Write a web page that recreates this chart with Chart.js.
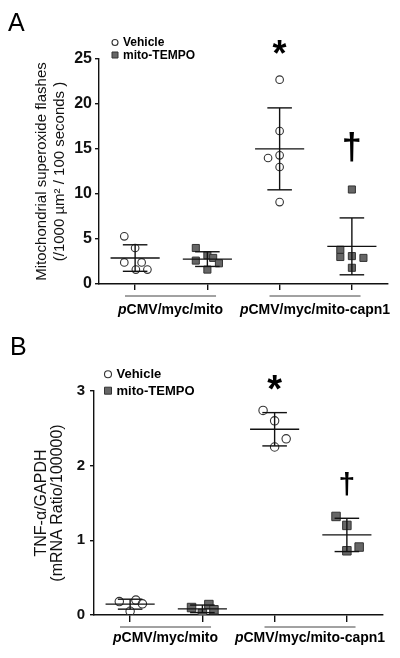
<!DOCTYPE html>
<html lang="en">
<head>
<meta charset="UTF-8">
<title>Superoxide flashes and TNF-α</title>
<script src="https://cdn.jsdelivr.net/npm/chart.js@4.4.1/dist/chart.umd.min.js"></script>
<style>
  body { margin: 0; background: #fff; }
  .panel { position: relative; width: 400px; }
  #panelA { height: 320px; }
  #panelB { height: 338px; }
</style>
</head>
<body>
<div class="panel" id="panelA"><canvas id="chartA"></canvas></div>
<div class="panel" id="panelB"><canvas id="chartB"></canvas></div>
<script>
// x groups 0..3: mito+Vehicle, mito+TEMPO, capn1+Vehicle, capn1+TEMPO
const constructs = ['pCMV/myc/mito', 'pCMV/myc/mito-capn1'];
const treatments = ['Vehicle', 'mito-TEMPO'];

// A: mitochondrial superoxide flashes
const flashMitoVehicle = [5.3, 4.0, 2.4, 2.4, 1.6, 1.6];
const flashMitoTempo = [4.0, 2.6, 3.2, 2.9, 2.3, 1.6];
const flashCapn1Vehicle = [22.7, 17.0, 14.3, 14.0, 13.0, 9.1];
const flashCapn1Tempo = [10.5, 3.8, 3.0, 3.1, 2.9, 1.8];
// horizontal scatter of the dots, in group widths
const flashJitter = [
  [-0.15, 0, -0.15, 0.09, 0.01, 0.17],
  [-0.16, -0.16, 0, 0.08, 0.16, 0],
  [0, 0, 0, -0.16, 0, 0],
  [0, -0.16, -0.16, 0, 0.16, 0]
];
const flashTicks = [0, 5, 10, 15, 20, 25];
const flashMarks = ['', '', '*', '†'];
const flashMarkY = [null, null, 26.3, 15.2];

// B: TNF-α/GAPDH
const tnfMitoVehicle = [0.18, 0.2, 0.15, 0.05];
const tnfMitoTempo = [0.1, 0.02, 0.14, 0.07];
const tnfCapn1Vehicle = [2.74, 2.6, 2.36, 2.25];
const tnfCapn1Tempo = [1.32, 1.2, 0.91, 0.86];
const tnfJitter = [
  [-0.15, 0.08, 0.17, 0],
  [-0.15, 0, 0.09, 0.16],
  [-0.16, 0, 0.16, 0],
  [-0.15, 0, 0.17, 0]
];
const tnfTicks = [0, 1, 2, 3];
const tnfMarks = ['', '', '*', '†'];
const tnfMarkY = [null, null, 3.11, 1.75];

const FONT = "'Liberation Sans', Arial, sans-serif";
Chart.defaults.font.family = FONT;
Chart.defaults.color = '#111';

function mean(a) { return a.reduce((s, v) => s + v, 0) / a.length; }
function sd(a) {
  const m = mean(a);
  return Math.sqrt(a.reduce((s, v) => s + (v - m) * (v - m), 0) / (a.length - 1));
}

// mean +/- SD bars, significance marks, legend and construct labels
const extras = {
  id: 'extras',
  afterDatasetsDraw(chart, args, o) {
    const ctx = chart.ctx, xs = chart.scales.x, ys = chart.scales.y;
    ctx.save();
    ctx.strokeStyle = '#111';
    ctx.lineWidth = 1.4;
    const hline = (g, v, half) => {
      ctx.beginPath();
      ctx.moveTo(xs.getPixelForValue(g - half), ys.getPixelForValue(v));
      ctx.lineTo(xs.getPixelForValue(g + half), ys.getPixelForValue(v));
      ctx.stroke();
    };
    o.groups.forEach((vals, g) => {
      const m = mean(vals), s = sd(vals);
      hline(g, m, 0.34);
      hline(g, m + s, 0.17);
      hline(g, m - s, 0.17);
      ctx.beginPath();
      ctx.moveTo(xs.getPixelForValue(g), ys.getPixelForValue(m + s));
      ctx.lineTo(xs.getPixelForValue(g), ys.getPixelForValue(m - s));
      ctx.stroke();
    });
    // * and dagger
    ctx.fillStyle = '#000';
    ctx.textAlign = 'center';
    ctx.textBaseline = 'alphabetic';
    o.marks.forEach((t, g) => {
      if (!t) return;
      ctx.font = 'bold ' + (t === '*' ? o.starSize : o.daggerSize) + 'px ' + FONT;
      const mt = ctx.measureText(t);
      const cy = ys.getPixelForValue(o.markY[g]);
      ctx.fillText(t, xs.getPixelForValue(g), cy + (mt.actualBoundingBoxAscent - mt.actualBoundingBoxDescent) / 2);
    });
    ctx.restore();
  },
  afterDraw(chart, args, o) {
    const ctx = chart.ctx, xs = chart.scales.x, area = chart.chartArea;
    ctx.save();
    // legend
    ctx.textBaseline = 'middle';
    ctx.textAlign = 'left';
    ctx.font = 'bold ' + o.legendSize + 'px ' + FONT;
    chart.data.datasets.forEach((ds, i) => {
      const px = area.left + o.legendX, py = area.top + o.legendY[i];
      const r = o.legendR[i];
      ctx.fillStyle = ds.backgroundColor;
      ctx.strokeStyle = ds.borderColor;
      ctx.lineWidth = ds.borderWidth;
      ctx.beginPath();
      if (ds.pointStyle === 'rect') ctx.rect(px - r, py - r, 2 * r, 2 * r);
      else ctx.arc(px, py, r, 0, Math.PI * 2);
      ctx.fill();
      ctx.stroke();
      ctx.fillStyle = '#000';
      ctx.fillText(ds.label, px + r + 5, py + 0.5);
    });
    // construct brackets and labels (leading p in italics)
    ctx.strokeStyle = '#444';
    ctx.lineWidth = 1;
    ctx.fillStyle = '#000';
    ctx.textBaseline = 'alphabetic';
    constructs.forEach((name, k) => {
      const g0 = 2 * k, g1 = 2 * k + 1;
      const x0 = xs.getPixelForValue(g0 - 0.14), x1 = xs.getPixelForValue(g1 + 0.12);
      const by = area.bottom + o.bracketGap;
      ctx.beginPath();
      ctx.moveTo(x0, by);
      ctx.lineTo(x1, by);
      ctx.stroke();
      const rest = name.slice(1);
      ctx.font = 'italic bold ' + o.labelSize + 'px ' + FONT;
      const wp = ctx.measureText('p').width;
      ctx.font = 'bold ' + o.labelSize + 'px ' + FONT;
      const wr = ctx.measureText(rest).width;
      let lx = (x0 + x1) / 2 - (wp + wr) / 2;
      const ly = area.bottom + o.labelGap;
      ctx.font = 'italic bold ' + o.labelSize + 'px ' + FONT;
      ctx.fillText('p', lx, ly);
      ctx.font = 'bold ' + o.labelSize + 'px ' + FONT;
      ctx.fillText(rest, lx + wp, ly);
    });
    ctx.restore();
  }
};

function dotPlot(id, c) {
  const vehiclePts = [], tempoPts = [];
  c.groups.forEach((vals, g) => {
    const target = g % 2 === 0 ? vehiclePts : tempoPts;
    vals.forEach((v, i) => target.push({ x: g + c.jitter[g][i], y: v }));
  });
  return new Chart(document.getElementById(id), {
    type: 'scatter',
    data: {
      datasets: [
        { label: treatments[0], data: vehiclePts, pointStyle: 'circle', pointRadius: c.circleR,
          pointHoverRadius: c.circleR, backgroundColor: 'rgba(255,255,255,0)', borderColor: '#333', borderWidth: 1.1 },
        { label: treatments[1], data: tempoPts, pointStyle: 'rect', pointRadius: c.rectR,
          pointHoverRadius: c.rectR, backgroundColor: '#666', borderColor: '#333', borderWidth: 1 }
      ]
    },
    options: {
      responsive: true,
      maintainAspectRatio: false,
      animation: false,
      layout: { padding: { left: c.padLeft, right: c.padRight, top: 0, bottom: 0 } },
      plugins: {
        legend: { display: false },
        tooltip: { enabled: false },
        title: {
          display: true, text: c.letter, align: 'start', color: '#000',
          font: { size: 25, weight: 'normal' },
          padding: { top: c.letterTop, bottom: c.letterBottom }
        },
        extras: c.extras
      },
      scales: {
        x: {
          type: 'linear', min: -0.5, max: 3.5,
          afterBuildTicks: s => { s.ticks = [0, 1, 2, 3].map(v => ({ value: v })); },
          afterFit: s => { s.height = c.xHeight; },
          ticks: { display: false },
          grid: { drawOnChartArea: false, drawTicks: true, tickLength: c.xTick, color: '#111', lineWidth: 1.4 },
          border: { color: '#111', width: 1.4 }
        },
        y: {
          min: 0, max: c.ticks[c.ticks.length - 1],
          afterBuildTicks: s => { s.ticks = c.ticks.map(v => ({ value: v })); },
          afterFit: s => { s.width = c.yWidth; },
          ticks: { padding: c.yPad, color: '#111', font: { size: c.tickSize, weight: 'bold' } },
          grid: { drawOnChartArea: false, tickLength: 4, color: '#111', lineWidth: 1.4 },
          border: { color: '#111', width: 1.4 },
          title: {
            display: true, text: c.yTitle, color: '#111',
            font: { size: c.yTitleSize, lineHeight: c.yTitleLH },
            padding: { top: c.yTitlePad, bottom: 0 }
          }
        }
      }
    },
    plugins: [extras]
  });
}

const flashGroups = [flashMitoVehicle, flashMitoTempo, flashCapn1Vehicle, flashCapn1Tempo];
dotPlot('chartA', {
  letter: 'A', letterTop: 9, letterBottom: 20,
  groups: flashGroups, jitter: flashJitter, ticks: flashTicks,
  circleR: 3.8, rectR: 5,
  padLeft: 8, padRight: 12, yWidth: 91, xHeight: 36, xTick: 6, yPad: 3, tickSize: 16,
  yTitle: ['Mitochondrial superoxide flashes', '(/1000 µm² / 100 seconds )'],
  yTitleSize: 15, yTitleLH: 1.2, yTitlePad: 25,
  extras: {
    groups: flashGroups, marks: flashMarks, markY: flashMarkY, starSize: 36, daggerSize: 36,
    legendX: 16, legendY: [-16.5, -4], legendR: [3, 3], legendSize: 12,
    bracketGap: 12, labelGap: 30, labelSize: 14
  }
});

const tnfGroups = [tnfMitoVehicle, tnfMitoTempo, tnfCapn1Vehicle, tnfCapn1Tempo];
dotPlot('chartB', {
  letter: 'B', letterTop: 13.5, letterBottom: 27.5,
  groups: tnfGroups, jitter: tnfJitter, ticks: tnfTicks,
  circleR: 4.2, rectR: 6,
  padLeft: 10, padRight: 17, yWidth: 84, xHeight: 43, xTick: 7, yPad: 5, tickSize: 15,
  yTitle: ['TNF-α/GAPDH', '(mRNA Ratio/100000)'],
  yTitleSize: 16, yTitleLH: 1.0, yTitlePad: 24,
  extras: {
    groups: tnfGroups, marks: tnfMarks, markY: tnfMarkY, starSize: 38, daggerSize: 30,
    legendX: 14, legendY: [-16.7, -0.3], legendR: [3.5, 3.5], legendSize: 13,
    bracketGap: 12, labelGap: 27, labelSize: 14
  }
});
</script>
</body>
</html>
